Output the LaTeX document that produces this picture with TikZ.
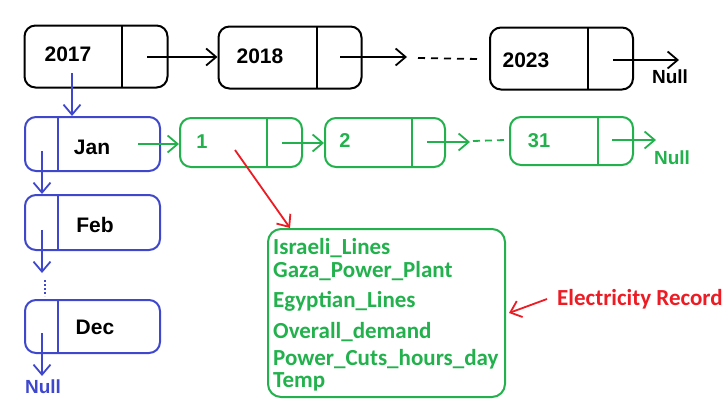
\documentclass[tikz,border=0pt]{standalone}
\usepackage{fontspec}
\setmainfont{Liberation Sans}
\newfontfamily\recfont{Carlito}
\usetikzlibrary{arrows.meta}
\definecolor{pblue}{RGB}{63,72,204}
\definecolor{pgreen}{RGB}{34,177,76}
\definecolor{pred}{RGB}{237,28,36}
\tikzset{
  cell/.style={draw, line width=2pt, rounded corners=11pt, inner sep=0pt},
  yearcell/.style={cell, minimum width=143pt, minimum height=62pt},
  monthcell/.style={cell, color=pblue, minimum width=135pt, minimum height=54pt},
  daycell/.style={cell, color=pgreen, minimum width=122pt, minimum height=49pt},
  lbl/.style={font=\bfseries\fontsize{21}{22}\selectfont, inner sep=0pt},
  small/.style={font=\bfseries\fontsize{20}{22}\selectfont, inner sep=0pt},
  rec/.style={font=\recfont\bfseries\fontsize{23}{24}\selectfont, color=pgreen, inner sep=0pt, anchor=west},
  ptr/.style={line width=1.8pt, -{Straight Barb[length=10pt,width=17pt,line width=1.8pt]}},
}
\begin{document}
\begin{tikzpicture}[x=1pt, y=-1pt]
    \useasboundingbox (0,0) rectangle (726,415);

    % years
    \node[yearcell] (y2017) at (96,56.5) {};
    \node[yearcell] (y2018) at (290,57.5) {};
    \node[yearcell] (y2023) at (561.5,58.5) {};
    \draw[line width=2pt] (122,25) -- (122,88) (317,27) -- (317,88) (588,27) -- (588,90);
    \node[lbl] (t2017) at (68,54) {2017};
    \node[lbl] (t2018) at (260,56) {2018};
    \node[lbl] (t2023) at (526,60) {2023};
    \node[small, font=\bfseries\fontsize{19}{22}\selectfont] (ynull) at (670,77) {Null};

    % months
    \begin{scope}[color=pblue]
      \node[monthcell] (jan) at (92.5,144) {};
      \node[monthcell, minimum height=55pt] (feb) at (92.5,222.5) {};
      \node[monthcell, minimum height=53pt] (dec) at (92.5,326.5) {};
      \draw[line width=2pt] (58,117) -- (58,171) (58,195) -- (58,250) (58,300) -- (58,353);
      \node[small, color=pblue, font=\bfseries\fontsize{19}{22}\selectfont] (mnull) at (43,387) {Null};
    \end{scope}
    \node[lbl] (tjan) at (92,147) {Jan};
    \node[lbl] (tfeb) at (95,225) {Feb};
    \node[lbl] (tdec) at (95,327) {Dec};

    % days
    \begin{scope}[color=pgreen]
      \node[daycell] (d1) at (241,142.5) {};
      \node[daycell, minimum width=120pt] (d2) at (385,142.5) {};
      \node[daycell, minimum width=123pt, minimum height=48pt] (d31) at (571.5,141) {};
      \draw[line width=2pt] (267,118) -- (267,167) (412,118) -- (412,167) (598,117) -- (598,165);
      \node[small, color=pgreen] (t1) at (202,142) {1};
      \node[small, color=pgreen] (t2) at (345,141) {2};
      \node[small, color=pgreen] (t31) at (539,141) {31};
      \node[small, color=pgreen, font=\bfseries\fontsize{19}{22}\selectfont] (dnull) at (672,158) {Null};
    \end{scope}

    % record
    \node[draw=pgreen, line width=2pt, rounded corners=13pt, minimum width=237pt, minimum height=168pt] (record) at (386.5,313) {};
    \node[rec] (r1) at (273,248) {Israeli\_Lines};
    \node[rec] (r2) at (273,271) {Gaza\_Power\_Plant};
    \node[rec] (r3) at (273,301) {Egyptian\_Lines};
    \node[rec] (r4) at (273,332) {Overall\_demand};
    \node[rec] (r5) at (273,359) {Power\_Cuts\_hours\_day};
    \node[rec] (r6) at (273,382) {Temp};
    \node[rec, color=pred] (elec) at (557,299) {Electricity Record};

    % pointers
    \coordinate (p2018) at (340,57);
    \coordinate (dots1) at (418,58);
    \coordinate (dots2) at (478,59);
    \coordinate (p2023) at (613,60);
    \coordinate (e2023) at (679,60);
    \coordinate (hit) at (290,228);
    \draw[ptr] (147,57) -- (y2018.west |- 147,57);
    \draw[ptr] (p2018) -- (407,57);
    \draw[line width=1.8pt, dashed, dash pattern=on 7pt off 6pt] (dots1) -- (dots2);
    \draw[ptr] (p2023) -- (e2023);

    \draw[ptr, pblue] (72,73) -- (jan.north -| 72,0);
    \draw[ptr, pblue] (42,151) -- (feb.north -| 42,0);
    \draw[ptr, pblue] (42,230) -- (42,273);
    \draw[line width=2pt, pblue, dotted] (45,280) -- (45,296);
    \draw[ptr, pblue] (42,333) -- (42,376);

    \draw[ptr, pgreen] (138,144) -- (d1.west |- 0,144);
    \draw[ptr, pgreen] (282,143) -- (d2.west |- 0,143);
    \draw[ptr, pgreen] (427,142) -- (470,142);
    \draw[line width=1.8pt, pgreen, dashed, dash pattern=on 7pt off 5pt] (473,141) -- (505,140);
    \draw[ptr, pgreen] (612,140) -- (656,140);

    \draw[ptr, pred] (235,150) -- (hit);
    \draw[ptr, pred] ([xshift=-10pt]elec.west) -- ([xshift=3pt]record.east);
\end{tikzpicture}
\end{document}
